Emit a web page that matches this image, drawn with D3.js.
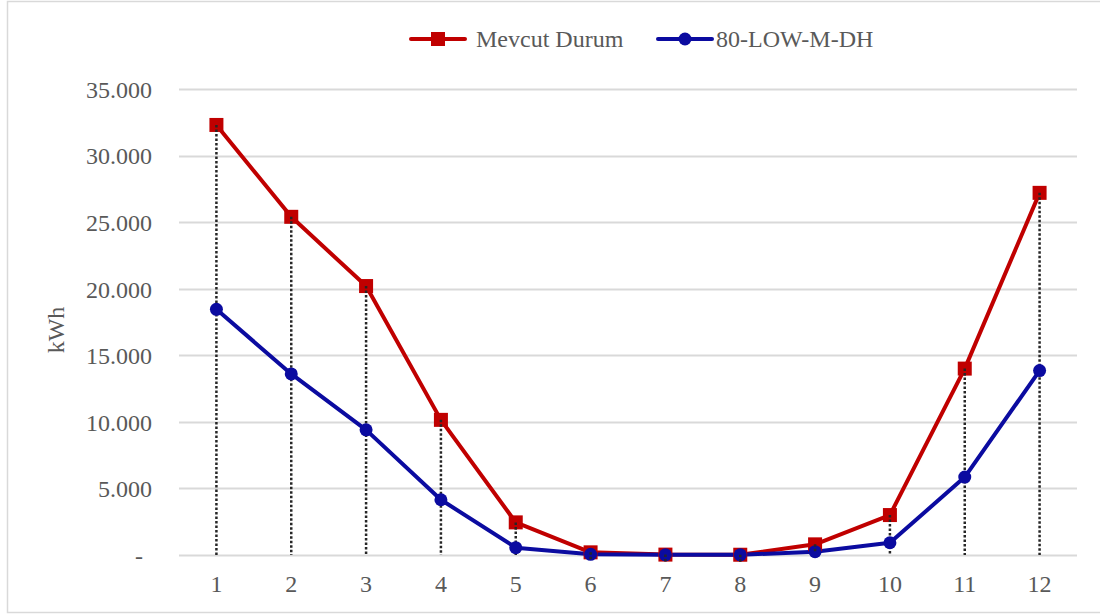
<!DOCTYPE html>
<html><head><meta charset="utf-8">
<script src="https://cdn.jsdelivr.net/npm/d3@7"></script>
<style>body{margin:0;background:#fff}svg{display:block}</style>
</head><body>
<svg id="c" width="1100" height="616"></svg>
<script>
const months = ["1","2","3","4","5","6","7","8","9","10","11","12"];
const mevcut = [32300, 25400, 20200, 10150, 2450, 200, 30, 20, 800, 3000, 14000, 27200];
const lowMDH = [18450, 13600, 9400, 4150, 550, 50, 10, 10, 250, 920, 5850, 13850];
const yTicks = [0, 5000, 10000, 15000, 20000, 25000, 30000, 35000];
const seriesNames = ["Mevcut Durum", "80-LOW-M-DH"];
const colors = ["#C00000", "#0B0BA0"];

(function(){
const svg = d3.select("#c");
const font = "'Liberation Serif','Times New Roman',serif";
const txt = "#595959";
const fs = 24;

svg.append("rect").attr("x",7.5).attr("y",1.5).attr("width",1100).attr("height",611)
  .attr("fill","#fff").attr("stroke","#d9d9d9").attr("stroke-width",1.5);

const pL = 179, pR = 1077, pT = 89, pB = 555;
const x = d3.scaleBand().domain(months).range([pL, pR]);
const y = d3.scaleLinear().domain([0, 35000]).range([pB, pT]);
const fmt = v => v === 0 ? "-" : d3.format(",")(v).replace(/,/g, ".");

svg.append("g").selectAll("line").data(yTicks).join("line")
  .attr("x1", pL).attr("x2", pR)
  .attr("y1", d => Math.round(y(d)) + 0.5).attr("y2", d => Math.round(y(d)) + 0.5)
  .attr("stroke", "#d9d9d9").attr("stroke-width", 2);

const yAxis = d3.axisLeft(y).tickValues(yTicks).tickFormat(fmt).tickSize(0).tickPadding(0);
const gy = svg.append("g").attr("transform", "translate(152,0)").call(yAxis);
gy.select(".domain").remove();
gy.selectAll("text").attr("font-family", font).attr("font-size", fs).attr("fill", txt)
  .attr("dy", "0.35em").attr("dx", d => d === 0 ? -9 : 0);

const xAxis = d3.axisBottom(x).tickSize(0).tickPadding(0);
const gx = svg.append("g").attr("transform", "translate(0,575)").call(xAxis);
gx.select(".domain").remove();
gx.selectAll("text").attr("font-family", font).attr("font-size", fs).attr("fill", txt).attr("dy", "0.71em");

svg.append("text").attr("transform", "translate(64,330) rotate(-90)")
  .attr("text-anchor", "middle").attr("font-family", font).attr("font-size", fs).attr("fill", txt).text("kWh");

const cx = d => x(d) + x.bandwidth() / 2;

svg.append("g").selectAll("line").data(months).join("line")
  .attr("x1", d => cx(d)).attr("x2", d => cx(d))
  .attr("y1", (d, i) => y(Math.max(mevcut[i], lowMDH[i]))).attr("y2", y(0))
  .attr("stroke", "#262626").attr("stroke-width", 2.5).attr("stroke-dasharray", "2.5,2");

const line = d3.line().x((d, i) => cx(months[i])).y(d => y(d));
[mevcut, lowMDH].forEach((data, s) => {
  svg.append("path").datum(data).attr("d", line).attr("fill", "none")
    .attr("stroke", colors[s]).attr("stroke-width", 4).attr("stroke-linejoin", "round");
});
svg.append("g").selectAll("rect").data(mevcut).join("rect")
  .attr("x", (d, i) => cx(months[i]) - 7).attr("y", d => y(d) - 7)
  .attr("width", 14).attr("height", 14).attr("fill", colors[0]);
svg.append("g").selectAll("circle").data(lowMDH).join("circle")
  .attr("cx", (d, i) => cx(months[i])).attr("cy", d => y(d)).attr("r", 6.5).attr("fill", colors[1]);

svg.append("g").selectAll("line").data(months).join("line")
  .attr("x1", d => cx(d)).attr("x2", d => cx(d))
  .attr("y1", (d, i) => y(Math.max(mevcut[i], lowMDH[i]))).attr("y2", (d, i) => y(Math.max(mevcut[i], lowMDH[i])) + 7)
  .attr("stroke", "#262626").attr("stroke-width", 2.5).attr("stroke-dasharray", "2.5,2");

const leg = [{x: 411, tx: 476}, {x: 658, tx: 716}];
leg.forEach((l, i) => {
  const g = svg.append("g");
  g.append("line").attr("x1", l.x).attr("x2", l.x + 54).attr("y1", 39).attr("y2", 39)
    .attr("stroke", colors[i]).attr("stroke-width", 4).attr("stroke-linecap", "round");
  if (i === 0) g.append("rect").attr("x", l.x + 20).attr("y", 32).attr("width", 14).attr("height", 14).attr("fill", colors[0]);
  else g.append("circle").attr("cx", l.x + 27).attr("cy", 39).attr("r", 6.5).attr("fill", colors[1]);
  g.append("text").attr("x", l.tx).attr("y", 39).attr("dy", "0.35em")
    .attr("font-family", font).attr("font-size", fs).attr("fill", txt).text(seriesNames[i]);
});
})();
</script>
</body></html>
